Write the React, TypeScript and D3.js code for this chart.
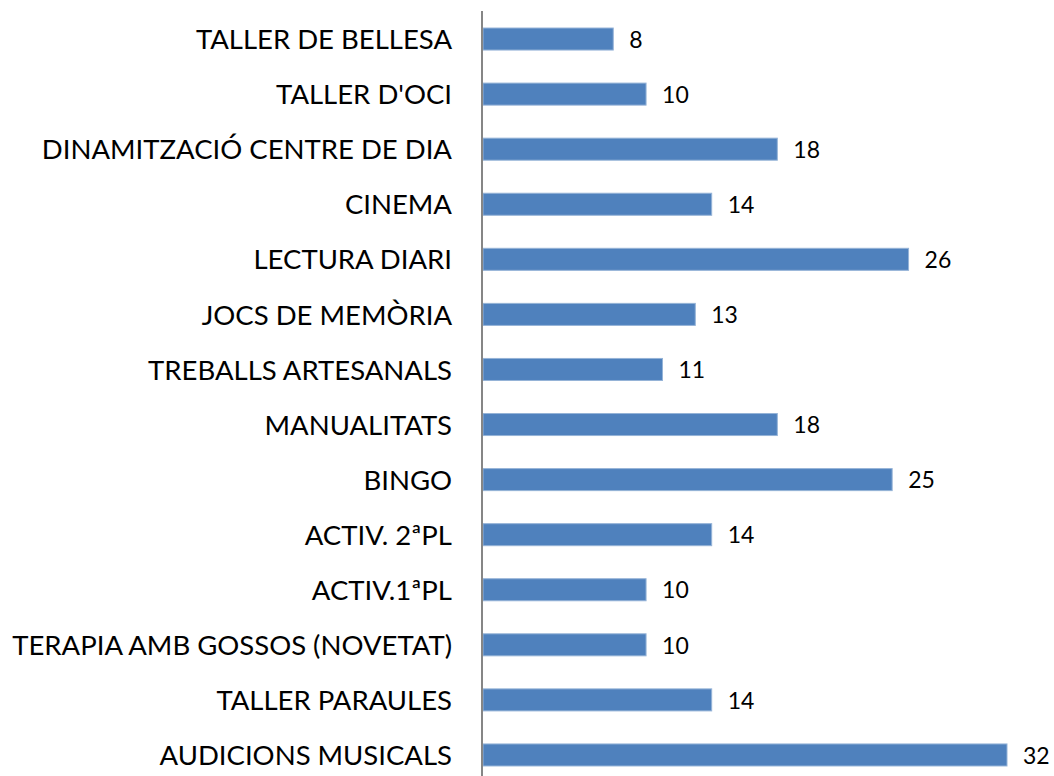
import React from "react";
import * as d3 from "d3";

const categories = [
  "TALLER DE BELLESA",
  "TALLER D'OCI",
  "DINAMITZACIÓ CENTRE DE DIA",
  "CINEMA",
  "LECTURA DIARI",
  "JOCS DE MEMÒRIA",
  "TREBALLS ARTESANALS",
  "MANUALITATS",
  "BINGO",
  "ACTIV. 2ªPL",
  "ACTIV.1ªPL",
  "TERAPIA AMB GOSSOS (NOVETAT)",
  "TALLER PARAULES",
  "AUDICIONS MUSICALS",
];
const values = [8, 10, 18, 14, 26, 13, 11, 18, 25, 14, 10, 10, 14, 32];

const width = 1054,
  height = 776;
const x0 = 482;

const App = () => {
  const x = d3.scaleLinear().domain([0, 32]).range([x0, 1007]);
  const y = d3
    .scaleBand<string>()
    .domain(categories)
    .range([11.5, 782.5])
    .paddingInner(0.6)
    .paddingOuter(0.3);

  return (
    <svg
      width={width}
      height={height}
      style={{ position: "absolute", left: 0, top: 0 }}
      fontFamily="Lato, Carlito, sans-serif"
    >
      <rect width={width} height={height} fill="#fff" />
      {categories.map((c, i) => {
        const yy = y(c)!;
        const bw = y.bandwidth();
        return (
          <g key={c}>
            <rect
              x={x(0) + 1}
              y={yy}
              width={x(values[i]) - x(0) - 1}
              height={bw}
              fill="#4f81bd"
              stroke="#95b3d7"
              strokeWidth={1}
            />
            <text
              x={452}
              y={yy + bw / 2}
              dy="0.37em"
              textAnchor="end"
              fontSize={27.5}
              fill="#000"
            >
              {c}
            </text>
            <text
              x={x(values[i]) + 16}
              y={yy + bw / 2}
              dy="0.38em"
              fontSize={23}
              fill="#000"
            >
              {values[i]}
            </text>
          </g>
        );
      })}
      <line x1={x0} x2={x0} y1={11} y2={776} stroke="#868686" strokeWidth={2} />
    </svg>
  );
};

export default App;
